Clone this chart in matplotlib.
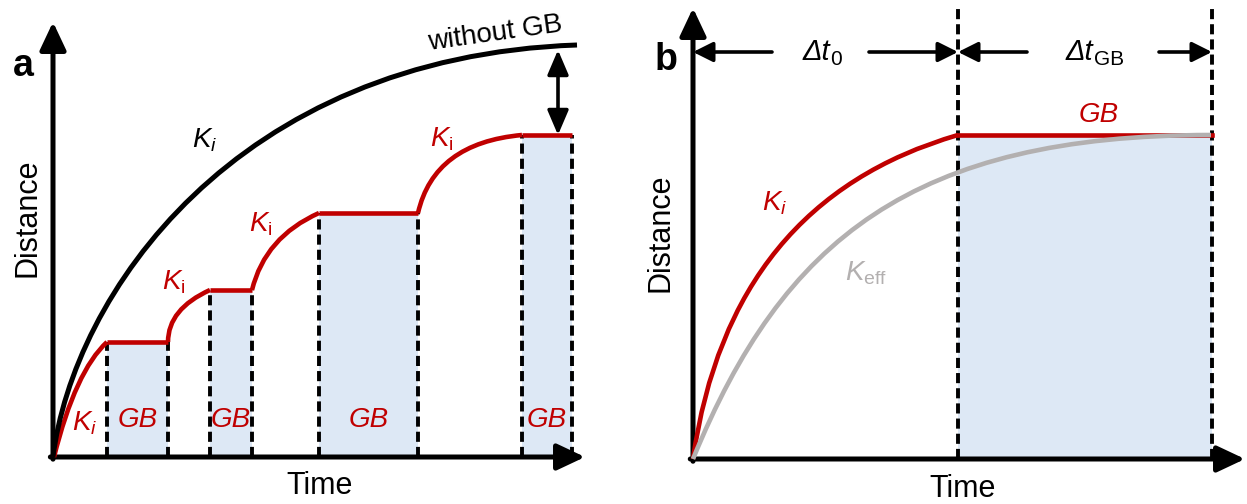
import matplotlib
matplotlib.use("Agg")
from matplotlib import pyplot as plt
from matplotlib.path import Path
from matplotlib.patches import PathPatch

plt.rcParams['font.family'] = ['Liberation Sans', 'DejaVu Sans']
plt.rcParams['mathtext.fontset'] = 'custom'
plt.rcParams['mathtext.rm'] = 'Liberation Sans'
plt.rcParams['mathtext.it'] = 'Liberation Sans:italic'
plt.rcParams['mathtext.bf'] = 'Liberation Sans:bold'

RED = "#c00000"
GREY = "#b3b0b0"
BLUE = "#dde8f5"

'''Panel a data (arbitrary time / distance units), curves as Bezier control points'''
# growth without grain boundaries (cubic)
nogb_t = [0, 2, 18, 52.4]
nogb_d = [0, 16, 40, 41.2]

# growth segments with K_i between grain boundaries (quadratic)
seg_t = [[0.1, 2.24, 5.4],
         [11.5, 11.5, 15.7],
         [19.9, 21.2, 26.6],
         [36.5, 38.1, 46.9]]
seg_d = [[0, 8.6, 11.5],
         [11.5, 14.8, 16.7],
         [16.7, 22.0, 24.4],
         [24.4, 31.4, 32.2]]

# grain boundary pinning intervals
gb_start = [5.4, 15.7, 26.6, 46.9]
gb_end = [11.5, 19.9, 36.5, 51.9]
gb_level = [11.5, 16.7, 24.4, 32.2]

'''Panel b data'''
ki_t = [0, 3.68, 26.5]          # quadratic
ki_d = [0, 25.8, 32.4]
keff_t = [0, 9, 22, 51.8]       # cubic
keff_d = [0, 22, 32.4, 32.4]
t0_end = 26.5
tgb_end = 51.9
b_level = 32.4


def bezier(ax, xs, ys, color, lw, z):
    pts = list(zip(xs, ys))
    if len(pts) == 3:
        codes = [Path.MOVETO, Path.CURVE3, Path.CURVE3]
    else:
        codes = [Path.MOVETO, Path.CURVE4, Path.CURVE4, Path.CURVE4]
    ax.add_patch(PathPatch(Path(pts, codes), fill=False, edgecolor=color,
                           lw=lw, zorder=z, clip_on=False, capstyle="butt"))


def draw_axes(ax):
    ax.set_axis_off()
    arrow = dict(arrowstyle="-|>,head_length=0.85,head_width=0.4", lw=3.6,
                 color="black", shrinkA=0, shrinkB=0, mutation_scale=20)
    ax.annotate("", xy=(0, 1), xytext=(0, -0.005), xycoords="axes fraction",
                arrowprops=arrow, annotation_clip=False)
    ax.annotate("", xy=(1, 0), xytext=(-0.005, 0), xycoords="axes fraction",
                arrowprops=arrow, annotation_clip=False)


def hdash(ax, x, top):
    ax.plot([x, x], [0, top], color="black", lw=2.8, ls=(0, (2.6, 1.3)),
            zorder=2, clip_on=False)


def delta_label(ax, x, y, sub):
    # italic Delta t with an upright subscript
    main = ax.text(x, y, "Δt", fontsize=21, style="italic", ha="center", va="center")
    ax.annotate(sub, xy=(1, 0), xycoords=main, xytext=(0.5, 1),
                textcoords="offset points", fontsize=15, ha="left", va="baseline")


fig = plt.figure(figsize=(12.47, 5.04), dpi=100)

'''Plot a'''
ax = fig.add_axes([53 / 1247, 47 / 504, 532 / 1247, 435 / 504])
ax.set_xlim(0, 53.2)
ax.set_ylim(0, 43.5)
draw_axes(ax)

for i in range(len(gb_start)):
    ax.fill_between([gb_start[i], gb_end[i]], 0, gb_level[i], color=BLUE,
                    lw=0, zorder=1)
    hdash(ax, gb_start[i], gb_level[i])
    hdash(ax, gb_end[i], gb_level[i])
    ax.plot([gb_start[i], gb_end[i]], [gb_level[i], gb_level[i]], color=RED,
            lw=3.3, zorder=3, solid_capstyle="butt")
for i in range(len(seg_t)):
    bezier(ax, seg_t[i], seg_d[i], RED, 3.3, 3)

bezier(ax, nogb_t, nogb_d, "black", 3.6, 4)

ax.annotate("", xy=(50.5, gb_level[-1]), xytext=(50.5, 40.7),
            arrowprops=dict(arrowstyle="<|-|>,head_length=0.75,head_width=0.32",
                            lw=2.6, color="black", shrinkA=0, shrinkB=0,
                            mutation_scale=20))

ax.text(44.2, 42.3, "without GB", fontsize=20, rotation=8, ha="center",
        va="center")
ax.text(15.2, 31.7, "$K_i$", fontsize=20, ha="center", va="center")
ax.text(3.2, 3.4, "$K_i$", fontsize=20, color=RED, ha="center", va="center")
ax.text(12.1, 17.5, r"$K_\mathrm{i}$", fontsize=20, color=RED, ha="center", va="center")
ax.text(20.8, 23.3, r"$K_\mathrm{i}$", fontsize=20, color=RED, ha="center", va="center")
ax.text(38.9, 31.8, r"$K_\mathrm{i}$", fontsize=20, color=RED, ha="center", va="center")
for i in range(len(gb_start)):
    ax.text((gb_start[i] + gb_end[i]) / 2, 3.7, "GB", fontsize=20, color=RED,
            style="italic", ha="center", va="center")

fig.text(28 / 1247, 1 - 218 / 504, "Distance", fontsize=22, rotation=90,
         ha="center", va="center")
fig.text(320 / 1247, 1 - 486 / 504, "Time", fontsize=22, ha="center", va="center")
fig.text(23 / 1247, 1 - 66 / 504, "a", fontsize=27, fontweight="bold",
         ha="center", va="center")

'''Plot b'''
ax = fig.add_axes([693 / 1247, 45 / 504, 552 / 1247, 451 / 504])
ax.set_xlim(0, 55.2)
ax.set_ylim(0, 45.1)
draw_axes(ax)

ax.fill_between([t0_end, tgb_end], 0, b_level, color=BLUE, lw=0, zorder=1)
hdash(ax, t0_end, 45.1)
hdash(ax, tgb_end, 45.1)
bezier(ax, ki_t, ki_d, RED, 3.3, 3)
ax.plot([t0_end, tgb_end], [b_level, b_level], color=RED, lw=3.3, zorder=3)
bezier(ax, keff_t, keff_d, GREY, 3.3, 4)

harrow = dict(arrowstyle="-|>,head_length=0.6,head_width=0.3", lw=2.6,
              color="black", shrinkA=0, shrinkB=0, mutation_scale=20)
ax.annotate("", xy=(0, 40.7), xytext=(7.9, 40.7), arrowprops=harrow)
ax.annotate("", xy=(t0_end, 40.7), xytext=(17.6, 40.7), arrowprops=harrow)
ax.annotate("", xy=(t0_end, 40.7), xytext=(33.4, 40.7), arrowprops=harrow)
ax.annotate("", xy=(tgb_end, 40.7), xytext=(46.6, 40.7), arrowprops=harrow)

delta_label(ax, 12.3, 40.7, "0")
delta_label(ax, 38.6, 40.7, "GB")
ax.text(40.6, 34.4, "GB", fontsize=20, color=RED, style="italic", ha="center", va="center")
ax.text(8.2, 25.6, "$K_i$", fontsize=20, color=RED, ha="center", va="center")
ax.text(17.3, 18.6, r"$K_\mathrm{eff}$", fontsize=20, color=GREY, ha="center", va="center")

fig.text(660 / 1247, 1 - 233 / 504, "Distance", fontsize=22, rotation=90,
         ha="center", va="center")
fig.text(963 / 1247, 1 - 489 / 504, "Time", fontsize=22, ha="center", va="center")
fig.text(666 / 1247, 1 - 60 / 504, "b", fontsize=27, fontweight="bold",
         ha="center", va="center")

fig.savefig("out.png", dpi=100)
